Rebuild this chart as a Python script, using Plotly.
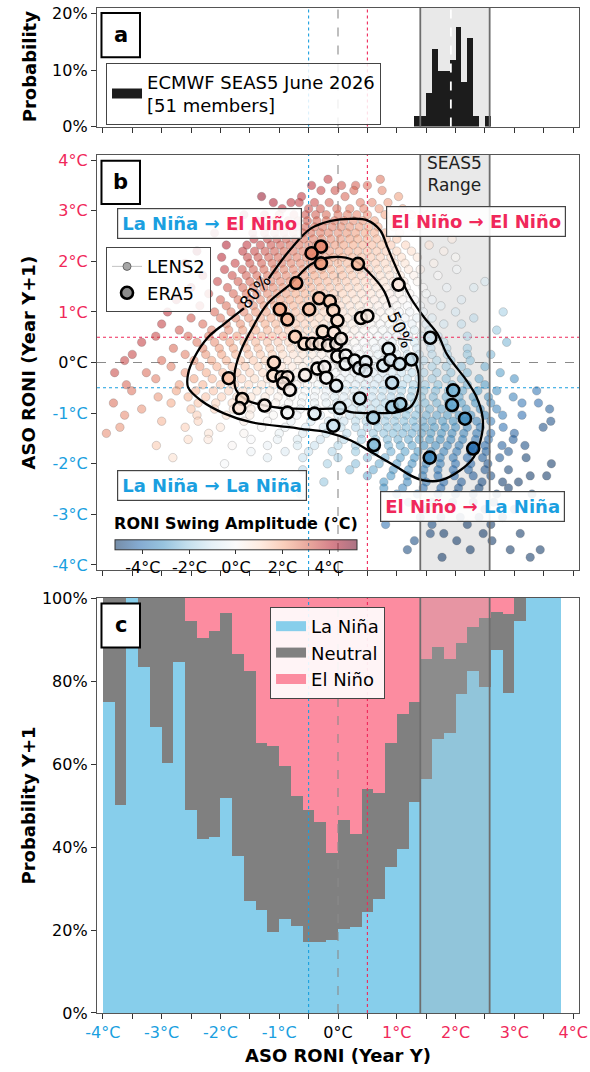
import plotly.graph_objects as go

# ---------------- colours ----------------
NINA = '#1A9FE0'
NINO = '#F0285A'
SKY = '#87CEEB'
GRAY = '#808080'
PINK = '#FC8CA0'

# ---------------- panel a : SEAS5 histogram ----------------
seas5_bin_left = [1.3, 1.4, 1.5, 1.6, 1.7, 1.8, 1.9, 2.0, 2.1, 2.2, 2.3, 2.4, 2.5]
seas5_counts = [1, 1, 3, 7, 5, 5, 6, 9, 4, 8, 1, 0, 1]
seas5_members = 51
seas5_range = [1.40, 2.58]
seas5_mean = 1.92

# ---------------- panel c : transition probabilities ----------------
bin_centers = [-3.9, -3.7, -3.5, -3.3, -3.1, -2.9, -2.7, -2.5, -2.3, -2.1, -1.9, -1.7, -1.5,
               -1.3, -1.1, -0.9, -0.7, -0.5, -0.3, -0.1, 0.1, 0.3, 0.5, 0.7, 0.9, 1.1, 1.3,
               1.5, 1.7, 1.9, 2.1, 2.3, 2.5, 2.7, 2.9, 3.1, 3.3, 3.5, 3.7]
nina_pct = [74.9, 50.0, 100, 83.3, 68.8, 60.2, 84.5, 48.8, 42.0, 42.3, 51.7, 37.9, 27.0,
            24.7, 19.6, 22.7, 20.9, 17.0, 17.2, 17.6, 20.3, 20.6, 24.3, 27.4, 35.1, 39.4, 50.8,
            56.3, 66.0, 67.5, 76.9, 82.4, 78.5, 87.5, 77.0, 94.5, 100, 100, 100]
neutral_pct = [25.1, 50.0, 0, 16.7, 31.2, 39.8, 15.5, 45.7, 48.3, 49.8, 44.8, 48.6, 55.4,
               40.3, 44.8, 36.7, 31.4, 31.9, 28.9, 20.9, 26.2, 22.5, 29.7, 25.7, 29.9, 32.6, 24.1,
               28.9, 22.3, 17.7, 12.2, 10.5, 16.6, 9.2, 19.1, 5.5, 0, 0, 0]
nino_pct = [0, 0, 0, 0, 0, 0, 0, 5.5, 9.7, 7.9, 3.5, 13.5, 17.6,
            35.0, 35.6, 40.6, 47.7, 51.1, 53.9, 61.5, 53.5, 56.9, 46.0, 46.9, 35.0, 28.0, 25.1,
            14.8, 11.7, 14.8, 10.9, 7.1, 4.9, 3.3, 3.9, 0, 0, 0, 0]

# ---------------- panel b : ERA5 years ----------------
era5_x = [-0.29, -0.45, -0.29, -0.71, -0.32, -0.14, -0.99, -0.86, -0.49, -0.08, -0.01, -0.26, -0.07,
          -0.73, -0.57, -0.44, -0.31, -0.17, -0.03, -0.01, -1.09, -0.35, -0.23, -0.56, -1.10, -0.96,
          -0.86, -0.93, -0.82, -1.86, -0.20, -0.03, -1.63, -1.68, -1.25, -0.86, -0.40, -0.08, 1.03,
          0.39, 0.50, 0.05, 1.57, 0.86, 0.13, 0.13, 0.28, 0.36, 0.47, 0.47, 0.77, 0.89, 1.05, 1.25,
          0.92, 0.37, 0.92, 1.06, 0.03, 0.60, 0.61, 1.96, 1.94, 2.16, 2.30, 1.56, 0.34]
era5_y = [2.29, 2.16, 1.96, 1.57, 1.27, 1.21, 1.05, 0.85, 1.05, 1.03, 0.83, 0.61, 0.59,
          0.51, 0.37, 0.37, 0.37, 0.34, 0.37, 0.12, 0.00, -0.12, -0.09, -0.25, -0.26, -0.29,
          -0.29, -0.41, -0.54, -0.31, -0.30, -0.46, -0.72, -0.90, -0.85, -0.99, -1.01, -1.25, 1.54,
          0.88, 0.92, 0.47, 0.49, 0.27, 0.14, -0.03, 0.04, -0.11, 0.01, -0.16, -0.06, 0.05, -0.03, 0.06,
          -0.40, -0.71, -0.88, -0.82, -0.90, -1.09, -1.63, -0.55, -0.84, -1.11, -1.70, -1.88, 1.95]

# ---------------- panel b : LENS2 members (rows of equal Y+1 value) ----------------
lens2_rows_y = [3.62, 3.50, 3.40, 3.28, 3.16, 3.04, 2.92, 2.80, 2.68, 2.56, 2.44, 2.32, 2.20, 2.08,
                1.96, 1.84, 1.72, 1.60, 1.48, 1.36, 1.24, 1.12, 1.00, 0.88, 0.76, 0.64, 0.52, 0.40,
                0.28, 0.16, 0.04, -0.08, -0.20, -0.32, -0.44, -0.56, -0.68, -0.80, -0.92, -1.04,
                -1.16, -1.28, -1.40, -1.52, -1.64, -1.76, -1.88, -2.00, -2.12, -2.24, -2.36, -2.48,
                -2.60, -2.76, -2.90, -3.06, -3.20, -3.38, -3.52, -3.70, -3.85]
lens2_rows_x = [
    [-0.17, 0.72],
    [-0.45, 0.06, 0.3, 0.5],
    [-0.29, -0.05, 0.27, 0.75],
    [-1.3, -0.62, 0.12, 1.03],
    [-1.1, -0.8, -0.66, -0.4, -0.15, 0.38, 0.58, 0.85],
    [-0.95, -0.5, -0.3, -0.02, 0.2, 0.44, 0.7, 1.1],
    [-1.6, -1.25, -1.0, -0.75, -0.55, -0.38, -0.2, 0.0, 0.16, 0.32, 0.5, 0.8, 1.25],
    [-1.38, -1.08, -0.85, -0.68, -0.52, -0.36, -0.2, -0.06, 0.1, 0.26, 0.42, 0.62, 0.9],
    [-1.75, -1.2, -1.0, -0.84, -0.7, -0.55, -0.4, -0.26, -0.1, 0.05, 0.2, 0.36, 0.52, 0.68, 0.95, 1.3],
    [-2.1, -1.45, -1.25, -1.08, -0.92, -0.76, -0.6, -0.46, -0.3, -0.16, 0.0, 0.15, 0.3, 0.46, 0.62, 0.8, 1.05],
    [-1.43, -1.2, -1.04, -0.88, -0.72, -0.58, -0.42, -0.28, -0.12, 0.04, 0.2, 0.34, 0.5, 0.66, 0.82, 1.0, 1.94],
    [-1.9, -1.55, -1.32, -1.14, -0.98, -0.82, -0.66, -0.5, -0.36, -0.2, -0.05, 0.1, 0.26, 0.42, 0.58, 0.74, 0.9, 1.15, 1.55],
    [-2.4, -1.62, -1.42, -1.24, -1.08, -0.92, -0.76, -0.6, -0.45, -0.3, -0.14, 0.02, 0.18, 0.34, 0.5, 0.66, 0.82, 1.0, 1.25, 1.8],
    [-1.98, -1.54, -1.36, -1.18, -1.02, -0.86, -0.7, -0.54, -0.38, -0.22, -0.08, 0.08, 0.24, 0.4, 0.56, 0.72, 0.9, 1.08, 1.35, 2.0],
    [-2.6, -1.75, -1.5, -1.3, -1.12, -0.96, -0.8, -0.64, -0.48, -0.32, -0.16, 0.0, 0.16, 0.32, 0.48, 0.64, 0.8, 0.96, 1.14, 1.63],
    [-1.93, -1.63, -1.44, -1.26, -1.08, -0.92, -0.76, -0.6, -0.44, -0.28, -0.12, 0.04, 0.2, 0.36, 0.52, 0.68, 0.84, 1.0, 1.2, 1.4, 2.02],
    [-2.3, -1.8, -1.56, -1.38, -1.2, -1.04, -0.88, -0.72, -0.56, -0.4, -0.24, -0.08, 0.08, 0.24, 0.4, 0.56, 0.72, 0.88, 1.06, 1.29, 1.7],
    [-2.05, -1.7, -1.5, -1.32, -1.14, -0.98, -0.82, -0.66, -0.5, -0.34, -0.18, -0.02, 0.14, 0.3, 0.46, 0.62, 0.78, 0.94, 1.12, 1.35, 2.5],
    [-2.5, -1.88, -1.62, -1.44, -1.26, -1.1, -0.94, -0.78, -0.62, -0.46, -0.3, -0.14, 0.02, 0.18, 0.34, 0.5, 0.66, 0.82, 0.98, 1.16, 1.45, 1.85, 2.31],
    [-2.2, -1.78, -1.56, -1.38, -1.2, -1.04, -0.88, -0.72, -0.56, -0.4, -0.24, -0.08, 0.08, 0.24, 0.4, 0.56, 0.72, 0.88, 1.04, 1.22, 1.5],
    [-2.75, -2.0, -1.7, -1.5, -1.32, -1.14, -0.98, -0.82, -0.66, -0.5, -0.34, -0.18, -0.02, 0.14, 0.3, 0.46, 0.62, 0.78, 0.94, 1.1, 1.3, 1.6, 2.1],
    [-2.35, -1.9, -1.64, -1.44, -1.26, -1.08, -0.92, -0.76, -0.6, -0.44, -0.28, -0.12, 0.04, 0.2, 0.36, 0.52, 0.68, 0.84, 1.0, 1.18, 1.4, 1.75],
    [-2.9, -2.1, -1.82, -1.6, -1.4, -1.22, -1.04, -0.88, -0.72, -0.56, -0.4, -0.24, -0.08, 0.08, 0.24, 0.4, 0.56, 0.72, 0.88, 1.04, 1.22, 1.45, 2.0, 2.81],
    [-2.5, -2.0, -1.74, -1.52, -1.32, -1.14, -0.96, -0.8, -0.64, -0.48, -0.32, -0.16, 0.0, 0.16, 0.32, 0.48, 0.64, 0.8, 0.96, 1.14, 1.34, 1.6, 2.31],
    [-3.0, -2.3, -1.9, -1.66, -1.44, -1.24, -1.06, -0.88, -0.72, -0.56, -0.4, -0.24, -0.08, 0.08, 0.24, 0.4, 0.56, 0.72, 0.88, 1.06, 1.26, 1.5, 1.8, 2.1],
    [-2.7, -2.15, -1.86, -1.62, -1.4, -1.2, -1.02, -0.84, -0.68, -0.52, -0.36, -0.2, -0.04, 0.12, 0.28, 0.44, 0.6, 0.76, 0.92, 1.1, 1.3, 1.55, 2.7],
    [-3.1, -2.55, -2.2, -1.95, -1.72, -1.5, -1.3, -1.12, -0.94, -0.76, -0.6, -0.44, -0.28, -0.12, 0.04, 0.2, 0.36, 0.52, 0.68, 0.84, 1.0, 1.2, 1.42, 1.7, 2.2],
    [-3.34, -2.4, -2.1, -1.84, -1.6, -1.4, -1.2, -1.02, -0.84, -0.68, -0.52, -0.36, -0.2, -0.04, 0.12, 0.28, 0.44, 0.6, 0.76, 0.92, 1.1, 1.3, 1.55, 1.8, 2.87],
    [-2.8, -2.3, -2.02, -1.78, -1.56, -1.36, -1.16, -0.98, -0.8, -0.64, -0.48, -0.32, -0.16, 0.0, 0.16, 0.32, 0.48, 0.64, 0.8, 0.96, 1.14, 1.34, 1.58, 1.85, 2.2],
    [-3.5, -2.6, -2.25, -1.98, -1.74, -1.52, -1.32, -1.12, -0.94, -0.76, -0.6, -0.44, -0.28, -0.12, 0.04, 0.2, 0.36, 0.52, 0.68, 0.84, 1.0, 1.18, 1.38, 1.6, 1.86, 2.2, 2.6],
    [-3.63, -3.0, -2.45, -2.15, -1.9, -1.66, -1.44, -1.24, -1.04, -0.86, -0.68, -0.52, -0.36, -0.2, -0.04, 0.12, 0.28, 0.44, 0.6, 0.76, 0.92, 1.08, 1.26, 1.46, 1.68, 1.92, 2.25],
    [-2.84, -2.35, -2.06, -1.8, -1.58, -1.36, -1.16, -0.96, -0.78, -0.6, -0.44, -0.28, -0.12, 0.04, 0.2, 0.36, 0.52, 0.68, 0.84, 1.0, 1.18, 1.38, 1.6, 1.84, 2.1, 2.5],
    [-3.8, -3.26, -2.6, -2.24, -1.96, -1.72, -1.5, -1.28, -1.08, -0.88, -0.7, -0.52, -0.36, -0.2, -0.04, 0.12, 0.28, 0.44, 0.6, 0.76, 0.92, 1.08, 1.26, 1.46, 1.68, 1.92, 2.2, 2.76],
    [-3.1, -2.45, -2.14, -1.88, -1.64, -1.42, -1.2, -1.0, -0.8, -0.62, -0.44, -0.28, -0.12, 0.04, 0.2, 0.36, 0.52, 0.68, 0.84, 1.0, 1.18, 1.38, 1.6, 1.84, 2.1, 2.4, 3.0],
    [-3.6, -2.7, -2.3, -2.0, -1.76, -1.52, -1.3, -1.1, -0.9, -0.7, -0.52, -0.34, -0.18, -0.02, 0.14, 0.3, 0.46, 0.62, 0.78, 0.94, 1.1, 1.28, 1.48, 1.7, 1.94, 2.2, 2.5],
    [-3.51, -2.75, -2.42, -2.12, -1.86, -1.62, -1.38, -1.16, -0.96, -0.76, -0.56, -0.38, -0.2, -0.04, 0.12, 0.28, 0.44, 0.6, 0.76, 0.92, 1.08, 1.26, 1.46, 1.66, 1.88, 2.12, 2.38, 2.7, 3.38],
    [-3.06, -2.55, -2.25, -1.98, -1.72, -1.48, -1.24, -1.02, -0.8, -0.6, -0.4, -0.22, -0.06, 0.1, 0.26, 0.42, 0.58, 0.74, 0.9, 1.06, 1.24, 1.42, 1.62, 1.84, 2.06, 2.3, 2.56, 2.98],
    [-3.82, -2.84, -2.38, -2.08, -1.8, -1.54, -1.3, -1.06, -0.84, -0.62, -0.4, -0.2, -0.02, 0.16, 0.32, 0.48, 0.64, 0.8, 0.96, 1.12, 1.3, 1.48, 1.68, 1.88, 2.1, 2.34, 2.6, 3.13, 3.41],
    [-3.34, -2.5, -2.1, -1.78, -1.48, -1.2, -0.92, -0.64, -0.36, -0.1, 0.08, 0.24, 0.4, 0.56, 0.72, 0.88, 1.04, 1.2, 1.38, 1.56, 1.76, 1.96, 2.18, 2.42, 2.7, 3.6],
    [-3.63, -2.4, -1.9, -1.5, -1.1, -0.7, -0.3, 0.0, 0.2, 0.36, 0.52, 0.68, 0.84, 1.0, 1.16, 1.32, 1.5, 1.68, 1.86, 2.06, 2.26, 2.5, 2.8, 3.13],
    [-3.0, -2.38, -1.6, -1.2, -0.8, -0.46, -0.16, 0.1, 0.3, 0.48, 0.64, 0.8, 0.96, 1.12, 1.28, 1.44, 1.6, 1.78, 1.96, 2.16, 2.36, 2.6, 3.62],
    [-3.71, -2.6, -2.0, -1.3, -0.9, -0.55, -0.25, 0.05, 0.3, 0.5, 0.68, 0.84, 1.0, 1.16, 1.32, 1.48, 1.64, 1.82, 2.0, 2.2, 2.42, 2.81, 3.49],
    [-3.94, -2.2, -1.6, -1.0, -0.6, -0.2, 0.15, 0.4, 0.6, 0.78, 0.94, 1.1, 1.26, 1.42, 1.58, 1.76, 1.94, 2.14, 2.36, 2.6, 3.0],
    [-2.55, -2.21, -1.48, -1.03, -0.69, -0.3, 0.1, 0.4, 0.64, 0.84, 1.02, 1.2, 1.38, 1.56, 1.74, 1.92, 2.12, 2.34, 2.56, 2.98],
    [-3.09, -1.8, -1.2, -0.69, -0.4, 0.0, 0.3, 0.6, 0.86, 1.06, 1.26, 1.46, 1.66, 1.86, 2.06, 2.28, 2.5, 2.79, 3.18],
    [-1.48, -0.9, -0.5, -0.1, 0.3, 0.62, 0.9, 1.14, 1.36, 1.58, 1.8, 2.02, 2.26, 2.52, 2.9],
    [-2.81, -1.2, -0.6, 0.0, 0.5, 0.8, 1.06, 1.3, 1.52, 1.74, 1.96, 2.2, 2.46, 2.75, 3.2],
    [-1.93, -0.18, 0.3, 0.7, 1.0, 1.26, 1.5, 1.74, 2.0, 2.26, 2.55, 3.63],
    [-0.6, 0.2, 0.6, 0.94, 1.2, 1.46, 1.7, 1.96, 2.22, 2.5, 2.9],
    [0.5, 0.9, 1.18, 1.44, 1.7, 1.98, 2.3, 2.6, 3.27, 3.55],
    [-0.24, 0.78, 1.18, 1.5, 1.8, 2.1, 2.45, 2.8, 3.07],
    [0.78, 1.1, 1.45, 1.75, 2.05, 2.4, 2.9],
    [-0.64, 1.0, 1.35, 1.7, 2.0, 2.3, 2.7, 3.3],
    [1.2, 1.6, 1.95, 2.3, 2.65],
    [0.9, 1.5, 1.9, 2.5, 3.0],
    [1.4, 1.75, 2.08, 2.4, 2.8],
    [0.81, 1.6, 2.2, 2.6],
    [1.57, 1.8, 2.47, 3.1],
    [1.3, 2.02, 2.62],
    [1.18, 2.25, 2.93, 3.44],
    [1.77, 3.27],
]

# ---------------- panel b : density contours ----------------
c80_x = [-1.18, -0.80, -0.46, -0.12, 0.22, 0.50, 0.72, 0.84, 1.01, 1.23, 1.46, 1.69, 1.85, 1.97,
         2.19, 2.36, 2.46, 2.45, 2.31, 2.08, 1.74, 1.46, 1.23, 1.01, 0.61, 0.22, -0.18, -0.63,
         -0.80, -1.48, -1.93, -2.33, -2.55, -2.55, -2.44, -2.21, -1.93, -1.60]
c80_y = [1.66, 2.25, 2.65, 2.80, 2.84, 2.81, 2.61, 2.28, 1.82, 1.29, 0.90, 0.57, 0.17, -0.03,
         -0.36, -0.69, -1.08, -1.41, -1.87, -2.13, -2.33, -2.33, -2.23, -2.07, -1.80, -1.54, -1.38, -1.31,
         -1.28, -1.18, -1.01, -0.75, -0.49, -0.22, 0.11, 0.50, 0.77, 1.07]
c50_x = [1.25, 1.37, 1.35, 1.23, 1.01, 0.61, 0.22, 0.05, -0.52, -1.09, -1.54, -1.73, -1.76, -1.65,
         -1.45, -1.20, -0.80, -0.46, -0.12, 0.27, 0.55, 0.78, 0.89]
c50_y = [0.18, -0.22, -0.62, -0.88, -0.98, -1.00, -0.98, -0.92, -0.92, -0.88, -0.75, -0.55, -0.22, 0.24,
         0.70, 1.16, 1.56, 1.94, 2.08, 2.02, 1.75, 1.42, 1.09]

x_tick_vals = [-4, -3.5, -3, -2.5, -2, -1.5, -1, -0.5, 0, 0.5, 1, 1.5, 2, 2.5, 3, 3.5, 4]
x_label_vals = [-4, -3, -2, -1, 0, 1, 2, 3, 4]
y_label_vals = [4, 3, 2, 1, 0, -1, -2, -3, -4]

# ---------------- helpers ----------------
rdbu_r = ['#053061', '#2166ac', '#4393c3', '#92c5de', '#d1e5f0', '#f7f7f7',
          '#fddbc7', '#f4a582', '#d6604d', '#b2182b', '#67001f']


def scale_with_alpha(alpha):
    out = []
    n = len(rdbu_r) - 1
    for i, h in enumerate(rdbu_r):
        r, g, b = int(h[1:3], 16), int(h[3:5], 16), int(h[5:7], 16)
        out.append([i / n, f'rgba({r},{g},{b},{alpha})'])
    return out


def temp_label(v):
    col = NINA if v < 0 else (NINO if v > 0 else 'black')
    return f"<span style='color:{col}'>{v:d}°C</span>"


FONT = 'DejaVu Sans'
CMIN, CMAX = -5.2, 5.2

lens2_x, lens2_y = [], []
for yv, xs in zip(lens2_rows_y, lens2_rows_x):
    for xv in xs:
        lens2_x.append(xv)
        lens2_y.append(yv)
lens2_swing = [b - a for a, b in zip(lens2_x, lens2_y)]
era5_swing = [b - a for a, b in zip(era5_x, era5_y)]

fig = go.Figure()

# ---- panel a
fig.add_trace(go.Bar(
    x=[b + 0.05 for b in seas5_bin_left],
    y=[c / seas5_members * 100 for c in seas5_counts],
    width=0.1, marker=dict(color='#1c1c1c', line=dict(width=0)),
    xaxis='x', yaxis='y', showlegend=False))
fig.add_trace(go.Scatter(
    x=[None], y=[None], mode='lines', line=dict(color='#1c1c1c', width=13),
    name='ECMWF SEAS5 June 2026<br>[51 members]', xaxis='x', yaxis='y', legend='legend'))

# ---- panel b
fig.add_trace(go.Scatter(
    x=lens2_x, y=lens2_y, mode='markers', xaxis='x2', yaxis='y2', showlegend=False,
    marker=dict(size=8.5, color=lens2_swing, cmin=CMIN, cmax=CMAX,
                colorscale=scale_with_alpha(0.55),
                line=dict(width=0.6, color='rgba(90,90,90,0.4)'),
                colorbar=dict(orientation='h', x=0.0373, xanchor='left', y=0.433, yanchor='bottom',
                              len=242, lenmode='pixels', thickness=10, xpad=0, ypad=0,
                              outlinewidth=1, outlinecolor='#333',
                              tickvals=[-4, -2, 0, 2, 4],
                              ticktext=['-4°C', '-2°C', '0°C', '2°C', '4°C'],
                              ticks='outside', ticklen=4, tickcolor='#333',
                              tickfont=dict(size=16, family=FONT),
                              title=dict(text='<b>RONI Swing Amplitude (°C)</b>', side='top',
                                         font=dict(size=16, family=FONT))))))
fig.add_trace(go.Scatter(
    x=c80_x, y=c80_y, mode='lines', line=dict(color='black', width=2.3, shape='spline'),
    xaxis='x2', yaxis='y2', showlegend=False))
fig.add_trace(go.Scatter(
    x=c50_x, y=c50_y, mode='lines', line=dict(color='black', width=2.3, shape='spline'),
    xaxis='x2', yaxis='y2', showlegend=False))
fig.add_trace(go.Scatter(
    x=era5_x, y=era5_y, mode='markers', xaxis='x2', yaxis='y2', showlegend=False,
    marker=dict(size=12, color=era5_swing, cmin=CMIN, cmax=CMAX,
                colorscale=scale_with_alpha(0.85), line=dict(width=2.6, color='black'))))
fig.add_trace(go.Scatter(
    x=[None], y=[None], mode='lines+markers', name='LENS2', xaxis='x2', yaxis='y2', legend='legend2',
    line=dict(color='rgba(170,170,170,0.7)', width=1),
    marker=dict(size=8, color='#a6a6a6', line=dict(width=1, color='#666'))))
fig.add_trace(go.Scatter(
    x=[None], y=[None], mode='markers', name='ERA5', xaxis='x2', yaxis='y2', legend='legend2',
    marker=dict(size=12, color='#8c8c8c', line=dict(width=2.6, color='black'))))

# ---- panel c
for vals, col in [(nina_pct, SKY), (neutral_pct, GRAY), (nino_pct, PINK)]:
    fig.add_trace(go.Bar(x=bin_centers, y=vals, width=0.2, marker=dict(color=col, line=dict(width=0)),
                         xaxis='x3', yaxis='y3', showlegend=False))
for col, nm in [(SKY, 'La Niña'), (GRAY, 'Neutral'), (PINK, 'El Niño')]:
    fig.add_trace(go.Scatter(x=[None], y=[None], mode='lines', line=dict(color=col, width=12),
                             name=nm, xaxis='x3', yaxis='y3', legend='legend3'))

# ---------------- shapes ----------------
shapes = []
band_fill = 'rgba(175,175,175,0.27)'
for xa, ya, band_layer in [('x', 'y', 'below'), ('x2', 'y2', 'below'), ('x3', 'y3', 'above')]:
    shapes.append(dict(type='rect', xref=xa, yref=f'{ya} domain', x0=seas5_range[0], x1=seas5_range[1],
                       y0=0, y1=1, fillcolor=band_fill, line=dict(width=0), layer=band_layer))
    ref_layer = 'above' if xa == 'x3' else 'below'
    for xv, col, dash in [(-0.5, NINA, 'dot'), (0, '#8a8a8a', 'dash'), (0.5, NINO, 'dot')]:
        shapes.append(dict(type='line', xref=xa, yref=f'{ya} domain', x0=xv, x1=xv, y0=0, y1=1,
                           line=dict(color=col, width=1.1, dash=dash), layer=ref_layer))
    for xv in seas5_range:
        shapes.append(dict(type='line', xref=xa, yref=f'{ya} domain', x0=xv, x1=xv, y0=0, y1=1,
                           line=dict(color='#6e6e6e', width=1.8), layer='above'))
for yv, col, dash in [(0.5, NINO, 'dot'), (0, '#8a8a8a', 'dash'), (-0.5, NINA, 'dot')]:
    shapes.append(dict(type='line', xref='x2 domain', yref='y2', x0=0, x1=1, y0=yv, y1=yv,
                       line=dict(color=col, width=1.1, dash=dash), layer='below'))
shapes.append(dict(type='line', xref='x', yref='y domain', x0=seas5_mean, x1=seas5_mean, y0=0, y1=1,
                   line=dict(color='white', width=1.8, dash='dash'), layer='above'))

annotations = []
# panel letters
for xa, ya, letter, y0, y1 in [('x', 'y', 'a', 0.585, 0.958), ('x2', 'y2', 'b', 0.882, 0.986),
                               ('x3', 'y3', 'c', 0.881, 0.987)]:
    shapes.append(dict(type='rect', xref=f'{xa} domain', yref=f'{ya} domain', x0=0.0093, x1=0.0892,
                       y0=y0, y1=y1, fillcolor='white', line=dict(color='black', width=2), layer='above'))
    annotations.append(dict(xref=f'{xa} domain', yref=f'{ya} domain', x=(0.0093 + 0.0892) / 2,
                            y=(y0 + y1) / 2, xanchor='center', yanchor='middle',
                            text=f'<b>{letter}</b>', showarrow=False,
                            font=dict(size=21, family=FONT, color='black')))


def arrow_text(a, b):
    ca = NINA if a == 'La Niña' else NINO
    cb = NINA if b == 'La Niña' else NINO
    return f"<b><span style='color:{ca}'>{a} →</span> <span style='color:{cb}'>{b}</span></b>"


for xv, yv, a, b in [(-2.19, 2.75, 'La Niña', 'El Niño'), (2.34, 2.78, 'El Niño', 'El Niño'),
                     (-2.14, -2.44, 'La Niña', 'La Niña'), (2.29, -2.85, 'El Niño', 'La Niña')]:
    annotations.append(dict(xref='x2', yref='y2', x=xv, y=yv, text=arrow_text(a, b), showarrow=False,
                            font=dict(size=18, family=FONT), bgcolor='rgba(255,255,255,0.9)',
                            bordercolor='#444', borderwidth=1.2, borderpad=4))
annotations.append(dict(xref='x2', yref='y2', x=1.99, y=3.72, text='SEAS5<br>Range', showarrow=False,
                        font=dict(size=17, family=FONT, color='#222')))
annotations.append(dict(xref='x2', yref='y2', x=-1.42, y=1.40, text='80%', showarrow=False, textangle=-50,
                        font=dict(size=17, family=FONT, color='black')))
annotations.append(dict(xref='x2', yref='y2', x=1.06, y=0.64, text='50%', showarrow=False, textangle=65,
                        font=dict(size=17, family=FONT, color='black')))

# axis titles (placed as text so all three y titles line up like the reference)
YTITLE_X = (29 - 97) / 482
for txt, ya in [('Probability', 'y'), ('ASO RONI (Year Y+1)', 'y2'), ('Probability Y+1', 'y3')]:
    annotations.append(dict(xref='paper', yref=f'{ya} domain', x=YTITLE_X, y=0.5, xanchor='center',
                            yanchor='middle', textangle=-90, text=f'<b>{txt}</b>', showarrow=False,
                            font=dict(size=18, family=FONT, color='black')))
annotations.append(dict(xref='paper', yref='paper', x=0.5, y=(1013 - 1055) / 1005, xanchor='center',
                        yanchor='middle', text='<b>ASO RONI (Year Y)</b>', showarrow=False,
                        font=dict(size=18, family=FONT, color='black')))

# ---------------- axes ----------------
axis_common = dict(showline=True, linecolor='#555', linewidth=1.3, mirror=True, ticks='outside',
                   ticklen=5, tickcolor='#333', tickwidth=1, showgrid=False, zeroline=False,
                   automargin=False, tickfont=dict(size=16, family=FONT, color='black'))
x_common = dict(axis_common, range=[-4.1, 4.1], tickvals=x_tick_vals)
blank_x = ['' for _ in x_tick_vals]
labelled_x = [temp_label(int(v)) if v in x_label_vals else '' for v in x_tick_vals]

fig.update_layout(
    width=590, height=1072, margin=dict(l=97, r=11, t=8, b=59, autoexpand=False),
    plot_bgcolor='white', paper_bgcolor='white', barmode='stack', bargap=0,
    font=dict(family=FONT, size=17, color='black'),
    xaxis=dict(x_common, domain=[0, 1], anchor='y', ticktext=blank_x),
    yaxis=dict(axis_common, domain=[0.882, 1.0], anchor='x', range=[0, 21], tickvals=[0, 10, 20],
               ticktext=['0%', '10%', '20%']),
    xaxis2=dict(x_common, domain=[0, 1], anchor='y2', ticktext=blank_x),
    yaxis2=dict(axis_common, domain=[0.4408, 0.8537], anchor='x2', range=[-4.1, 4.1],
                tickvals=y_label_vals, ticktext=[temp_label(v) for v in y_label_vals]),
    xaxis3=dict(x_common, domain=[0, 1], anchor='y3', ticktext=labelled_x),
    yaxis3=dict(axis_common, domain=[0, 0.4129], anchor='x3', range=[0, 100],
                tickvals=[0, 20, 40, 60, 80, 100], ticktext=['0%', '20%', '40%', '60%', '80%', '100%']),
    legend=dict(x=0.0187, y=0.9456, xanchor='left', yanchor='top', bgcolor='rgba(255,255,255,0.85)',
                bordercolor='#444', borderwidth=1, font=dict(size=18, family=FONT)),
    legend2=dict(x=0.0187, y=0.762, xanchor='left', yanchor='top', bgcolor='rgba(255,255,255,0.85)',
                 bordercolor='#444', borderwidth=1, font=dict(size=18, family=FONT)),
    legend3=dict(x=0.359, y=0.404, xanchor='left', yanchor='top', bgcolor='rgba(255,255,255,0.9)',
                 bordercolor='#444', borderwidth=1, font=dict(size=18, family=FONT)),
    shapes=shapes, annotations=annotations,
)

fig.write_html('out.html', config={'displayModeBar': False},
               post_script="document.body.style.margin='0';document.body.style.padding='0';")
